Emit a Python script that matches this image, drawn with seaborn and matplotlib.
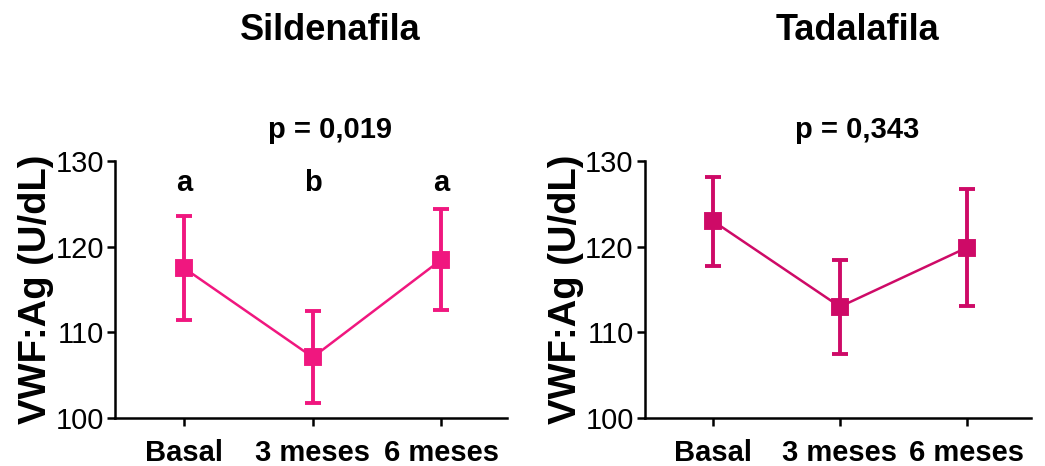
import matplotlib
matplotlib.use("Agg")
import matplotlib.pyplot as plt
import seaborn as sns
import pandas as pd

sns.set_style("ticks")
plt.rcParams["font.family"] = ["Liberation Sans", "DejaVu Sans"]
for k in ["text.color", "axes.labelcolor", "xtick.color", "ytick.color", "axes.edgecolor"]:
    plt.rcParams[k] = "black"

categories = ["Basal", "3 meses", "6 meses"]
sild_mean = [117.5, 107.1, 118.5]
sild_err = [6.1, 5.4, 5.9]
tada_mean = [123.0, 113.0, 119.9]
tada_err = [5.2, 5.5, 6.8]
sild_letters = ["a", "b", "a"]

panels = [
    dict(title="Sildenafila", p="p = 0,019", mean=sild_mean, err=sild_err,
         color="#F0177F", letters=sild_letters, rect=[0.110, 0.103, 0.375, 0.551]),
    dict(title="Tadalafila", p="p = 0,343", mean=tada_mean, err=tada_err,
         color="#CE0A67", letters=None, rect=[0.617, 0.103, 0.370, 0.551]),
]

fig = plt.figure(figsize=(10.45, 4.66), dpi=100)

for pan in panels:
    ax = fig.add_axes(pan["rect"])
    df = pd.DataFrame({"Tiempo": categories, "VWF": pan["mean"]})
    sns.pointplot(data=df, x="Tiempo", y="VWF", color=pan["color"], markers="s",
                  errorbar=None, linewidth=1.8, markersize=11, ax=ax, zorder=3)
    ax.errorbar(range(len(categories)), pan["mean"], yerr=pan["err"], fmt="none",
                ecolor=pan["color"], elinewidth=2.8, capsize=6, capthick=2.8, zorder=2)
    ax.set_xlim(-0.54, 2.51)
    ax.set_ylim(100, 130)
    ax.set_yticks([100, 110, 120, 130])
    ax.set_xlabel("")
    ax.set_ylabel("VWF:Ag (U/dL)", fontsize=27.5, fontweight="bold", labelpad=1)
    ax.tick_params(axis="y", labelsize=21, width=1.8, length=6, pad=2)
    ax.tick_params(axis="x", labelsize=21, width=1.8, length=6, pad=9)
    for lab in ax.get_xticklabels():
        lab.set_fontweight("bold")
    for s in ["left", "bottom"]:
        ax.spines[s].set_linewidth(1.8)
    sns.despine(ax=ax)
    if pan["letters"]:
        for i, let in enumerate(pan["letters"]):
            ax.text(i, 127.4, let, ha="center", va="center", fontsize=21, fontweight="bold")
    ax.text(0.55, 1.12, pan["p"], transform=ax.transAxes, ha="center", va="center",
            fontsize=21, fontweight="bold")
    ax.text(0.55, 1.51, pan["title"], transform=ax.transAxes, ha="center", va="center",
            fontsize=26, fontweight="bold")

fig.savefig("out.png", dpi=100)
